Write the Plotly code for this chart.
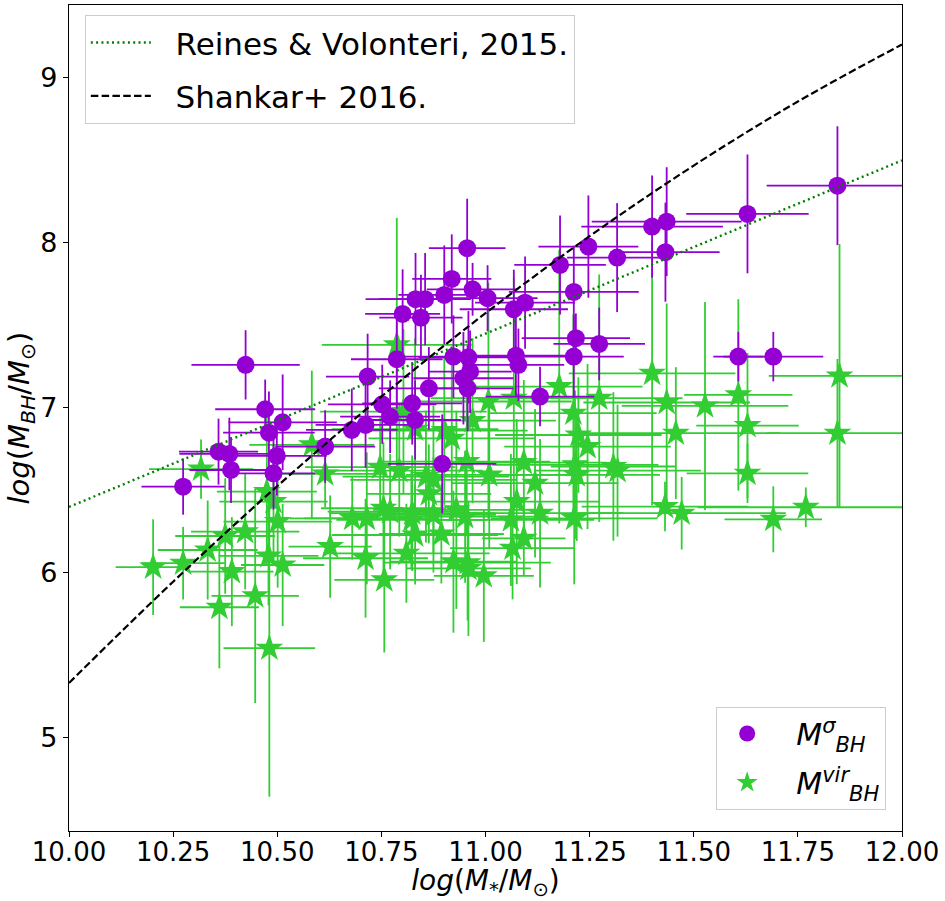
import plotly.graph_objects as go

# ---- data ----
# M_BH^sigma (purple circles)
sig_x = [10.274,10.359,10.385,10.389,10.424,10.471,10.480,10.491,10.499,10.513,
         10.615,10.679,10.712,10.717,10.752,10.771,10.787,10.801,10.824,10.831,
         10.832,10.845,10.855,10.864,10.896,10.901,10.919,10.923,10.947,10.956,
         10.957,10.959,10.963,10.969,11.005,11.068,11.073,11.079,11.095,11.131,
         11.179,11.212,11.212,11.217,11.247,11.273,11.316,11.400,11.432,11.435,
         11.607,11.629,11.691,11.845]
sig_y = [6.523,6.735,6.721,6.624,7.261,6.992,6.850,6.604,6.709,6.913,
         6.766,6.867,6.897,7.190,7.022,6.947,7.295,7.570,7.028,6.927,
         7.659,7.547,7.659,7.119,6.661,7.685,7.782,7.311,7.180,7.968,
         7.119,7.307,7.220,7.719,7.665,7.598,7.317,7.261,7.638,7.069,
         7.867,7.703,7.311,7.423,7.978,7.388,7.911,8.099,7.944,8.129,
         7.311,8.176,7.311,8.347]
sig_xerr = [0.10,0.095,0.12,0.10,0.13,0.12,0.11,0.10,0.12,0.13,
            0.12,0.11,0.12,0.10,0.13,0.12,0.11,0.09,0.12,0.11,
            0.12,0.10,0.11,0.12,0.13,0.11,0.095,0.13,0.12,0.092,
            0.11,0.12,0.10,0.11,0.12,0.13,0.12,0.11,0.12,0.13,
            0.11,0.156,0.12,0.13,0.12,0.11,0.12,0.17,0.13,0.18,
            0.06,0.147,0.12,0.17]
sig_yerr = [0.17,0.20,0.22,0.20,0.21,0.18,0.25,0.22,0.24,0.29,
            0.22,0.25,0.26,0.26,0.24,0.22,0.30,0.27,0.25,0.24,
            0.28,0.26,0.28,0.25,0.30,0.30,0.27,0.25,0.28,0.30,
            0.26,0.28,0.25,0.16,0.20,0.24,0.25,0.22,0.28,0.18,
            0.30,0.28,0.25,0.15,0.31,0.22,0.33,0.31,0.30,0.33,
            0.15,0.36,0.15,0.36]

# M_BH^vir (green stars)
vir_x = [10.202,10.274,10.317,10.333,10.361,10.375,10.391,10.423,10.447,10.475,
         10.479,10.481,10.491,10.501,10.513,10.583,10.615,10.627,10.680,10.712,
         10.715,10.747,10.755,10.771,10.757,10.787,10.793,10.803,10.810,10.824,
         10.822,10.831,10.831,10.857,10.864,10.875,10.875,10.894,10.901,10.919,
         10.923,10.930,10.951,10.955,10.957,10.959,10.969,10.996,11.007,11.009,
         11.061,11.065,11.068,11.075,11.092,11.092,11.119,11.131,11.177,11.211,
         11.213,11.215,11.219,11.223,11.245,11.273,11.307,11.317,11.400,11.431,
         11.435,11.457,11.471,11.527,11.607,11.629,11.629,11.691,11.769,11.845,
         11.850]
vir_y = [6.035,6.059,6.629,6.139,5.792,6.224,6.008,6.250,5.861,6.493,
         6.103,5.544,6.432,6.311,6.048,6.776,6.600,6.160,6.331,6.089,
         6.331,6.641,6.392,6.372,5.958,7.382,6.620,6.978,6.119,6.362,
         6.321,6.871,6.230,6.584,6.479,6.564,6.352,6.236,6.863,6.816,
         6.068,6.382,6.341,6.675,6.062,6.028,6.923,5.982,7.039,6.594,
         6.321,6.150,7.059,6.432,6.669,6.210,6.544,6.362,7.129,6.968,
         6.331,6.655,6.594,6.836,6.766,7.059,6.645,6.620,7.210,6.402,
         7.033,6.847,6.362,7.012,7.079,6.893,6.604,6.325,6.398,6.847,
         7.194]
vir_xerr = [0.09,0.10,0.125,0.12,0.095,0.12,0.10,0.13,0.105,0.12,
            0.12,0.11,0.13,0.13,0.10,0.15,0.14,0.10,0.15,0.15,
            0.15,0.18,0.15,0.15,0.12,0.18,0.20,0.20,0.20,0.20,
            0.18,0.20,0.20,0.20,0.15,0.20,0.15,0.15,0.20,0.20,
            0.15,0.20,0.20,0.20,0.20,0.15,0.20,0.12,0.20,0.20,
            0.20,0.15,0.20,0.20,0.20,0.10,0.20,0.20,0.20,0.20,
            0.20,0.20,0.20,0.20,0.20,0.20,0.15,0.20,0.20,0.20,
            0.20,0.25,0.25,0.20,0.13,0.123,0.146,0.117,0.26,0.17,
            0.17]
vir_yerr = [0.29,0.22,0.18,0.30,0.37,0.35,0.33,0.35,0.65,0.45,
            0.30,0.90,0.35,0.40,0.37,0.45,0.20,0.31,0.25,0.36,
            0.40,0.30,0.40,0.35,0.44,0.77,0.40,0.50,0.30,0.35,
            0.30,0.55,0.30,0.40,0.30,0.45,0.35,0.30,0.45,0.50,
            0.43,0.60,0.40,0.45,0.35,0.41,0.50,0.40,0.72,0.45,
            0.40,0.31,0.73,0.50,0.50,0.23,0.45,0.45,0.83,0.60,
            0.40,0.45,0.40,0.35,0.50,0.75,0.45,0.40,0.80,0.15,
            0.60,0.40,0.22,0.63,0.58,0.44,0.18,0.20,0.12,0.45,
            0.80]

# relations
rv_x = [10.0, 12.0]
rv_y = [6.40, 8.50]
sh_x = [10.0, 10.25, 10.5, 10.75, 11.0, 11.25, 11.5, 11.75, 12.0]
sh_y = [5.333, 5.947, 6.526, 7.069, 7.574, 8.041, 8.469, 8.857, 9.203]

PURPLE = "#9400D3"
GREEN = "#32CD32"
FONT = "DejaVu Sans"
NB = "\u00a0"

fig = go.Figure()

fig.add_trace(go.Scatter(
    x=vir_x, y=vir_y, mode="markers",
    name=NB * 2 + "<i>M</i><sup><i>vir</i></sup><sub><i>BH</i></sub>",
    marker=dict(symbol="star", size=21, color=GREEN, line=dict(width=0)),
    error_x=dict(type="data", array=vir_xerr, color=GREEN, thickness=1.8, width=0),
    error_y=dict(type="data", array=vir_yerr, color=GREEN, thickness=1.8, width=0),
    legend="legend2", legendrank=2, legendgroup="vir"))

fig.add_trace(go.Scatter(
    x=sig_x, y=sig_y, mode="markers",
    name=NB * 2 + "<i>M</i><sup><i>σ</i></sup><sub><i>BH</i></sub>",
    marker=dict(symbol="circle", size=18, color=PURPLE, line=dict(width=0)),
    error_x=dict(type="data", array=sig_xerr, color=PURPLE, thickness=1.8, width=0),
    error_y=dict(type="data", array=sig_yerr, color=PURPLE, thickness=1.8, width=0),
    legend="legend2", legendrank=1, legendgroup="sig"))

fig.add_trace(go.Scatter(
    x=rv_x, y=rv_y, mode="lines", name=NB * 2 + "Reines & Volonteri, 2015.",
    line=dict(color="#008000", width=2.4, dash="2px,3.3px"),
    legend="legend", legendrank=1, legendgroup="rv"))

fig.add_trace(go.Scatter(
    x=sh_x, y=sh_y, mode="lines", name=NB * 2 + "Shankar+ 2016.", line_shape="spline",
    line=dict(color="black", width=2.2, dash="7.5px,3.3px"),
    legend="legend", legendrank=2, legendgroup="sh"))

axis_common = dict(showline=True, linecolor="black", linewidth=1.2, mirror=True,
                   ticks="outside", tickwidth=1.2, tickcolor="black",
                   showgrid=False, zeroline=False, automargin=False)

fig.update_layout(
    width=945, height=901,
    margin=dict(l=69, r=43, t=5, b=70),
    plot_bgcolor="white", paper_bgcolor="white",
    font=dict(family=FONT, color="black"),
    xaxis=dict(range=[10, 12], tickvals=[10, 10.25, 10.5, 10.75, 11, 11.25, 11.5, 11.75, 12],
               tickformat=".2f", ticklen=5, ticklabelstandoff=-7,
               tickfont=dict(family=FONT, size=26, color="black"),
               title=dict(text="<i>log</i>(<i>M</i><sub>*</sub>/<i>M</i><sub>⊙</sub>)",
                          font=dict(family=FONT, size=28), standoff=9),
               **axis_common),
    yaxis=dict(range=[4.436, 9.442], tickvals=[5, 6, 7, 8, 9], ticklen=5,
               tickfont=dict(family=FONT, size=27, color="black"),
               title=dict(text="<i>log</i>(<i>M</i><sub><i>BH</i></sub>/<i>M</i><sub>⊙</sub>)",
                          font=dict(family=FONT, size=29), standoff=0),
               **axis_common),
    legend=dict(x=0.019, y=0.988, xanchor="left", yanchor="top",
                bgcolor="rgba(255,255,255,0.8)", bordercolor="#cccccc", borderwidth=1,
                font=dict(family=FONT, size=31, color="black"), tracegroupgap=10,
                itemwidth=60),
    legend2=dict(x=0.981, y=0.026, xanchor="right", yanchor="bottom",
                 bgcolor="rgba(255,255,255,0.8)", bordercolor="#cccccc", borderwidth=1,
                 font=dict(family=FONT, size=30, color="black"), tracegroupgap=7,
                 itemwidth=50),
    showlegend=True,
)

fig.write_html("out.html")
